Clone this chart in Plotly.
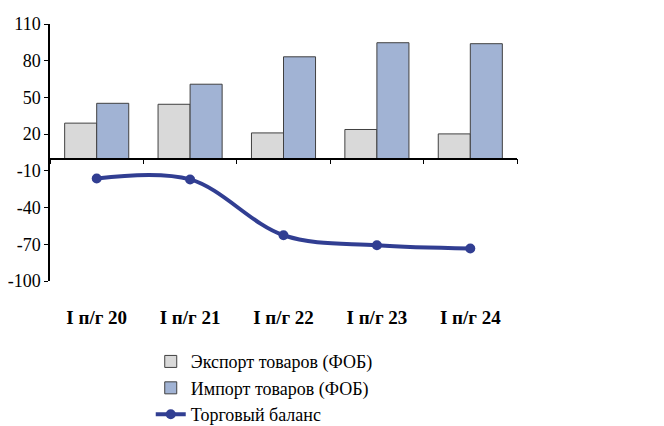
import plotly.graph_objects as go

categories = ["I п/г 20", "I п/г 21", "I п/г 22", "I п/г 23", "I п/г 24"]
export_vals = [29.0, 44.4, 21.0, 23.8, 20.2]
import_vals = [45.2, 60.8, 83.2, 94.7, 93.9]
balance_vals = [-16.2, -17.0, -62.6, -70.8, -73.4]
y_ticks = [110, 80, 50, 20, -10, -40, -70, -100]
y_ticktext = [str(v) for v in y_ticks]

y_min, y_max = -100, 110
zero_frac = (0 - y_min) / (y_max - y_min)

FONT = "Liberation Serif"

fig = go.Figure()
fig.add_trace(go.Bar(
    x=categories, y=export_vals, name="Экспорт товаров (ФОБ)",
    marker=dict(color="#D9D9D9", line=dict(color="#404040", width=1)),
))
fig.add_trace(go.Bar(
    x=categories, y=import_vals, name="Импорт товаров (ФОБ)",
    marker=dict(color="#A1B3D4", line=dict(color="#404040", width=1)),
))
fig.add_trace(go.Scatter(
    x=categories, y=balance_vals, name="Торговый баланс", xaxis="x2",
    mode="lines+markers",
    line=dict(color="#313E92", width=4, shape="spline", smoothing=1.0),
    marker=dict(color="#313E92", size=10),
))

fig.update_layout(
    template="none",
    width=656, height=418,
    margin=dict(l=42, r=147, t=16, b=145, autoexpand=False),
    paper_bgcolor="white", plot_bgcolor="white",
    font=dict(family=FONT, size=19, color="black"),
    barmode="group", bargap=0.314, bargroupgap=0,
    showlegend=True,
    legend=dict(
        xref="container", yref="container",
        x=0.2176, y=0.198, xanchor="left", yanchor="top",
        font=dict(family=FONT, size=18, color="black"),
        tracegroupgap=0, itemwidth=30, traceorder="normal",
        bgcolor="rgba(0,0,0,0)",
    ),
    xaxis=dict(
        type="category", categoryorder="array", categoryarray=categories,
        range=[-0.5, 4.5], automargin=False,
        anchor="free", position=zero_frac,
        showline=True, linecolor="black", linewidth=1.5,
        ticks="outside", tickson="boundaries", ticklen=5, tickcolor="black",
        showticklabels=False, showgrid=False, zeroline=False,
    ),
    xaxis2=dict(
        type="category", categoryorder="array", categoryarray=categories,
        overlaying="x", matches="x", anchor="y", side="bottom",
        automargin=False,
        showline=False, ticks="", showgrid=False, zeroline=False,
        tickfont=dict(family=FONT, size=19, color="black", weight="bold"),
        ticklabelstandoff=23,
    ),
    yaxis=dict(
        range=[y_min, y_max], tickvals=y_ticks, ticktext=y_ticktext,
        automargin=False,
        showline=True, linecolor="black", linewidth=1.5,
        ticks="outside", ticklen=4, tickcolor="black",
        showgrid=False, zeroline=False,
        tickfont=dict(family=FONT, size=18, color="black"),
    ),
)

fig.write_html("out.html")
